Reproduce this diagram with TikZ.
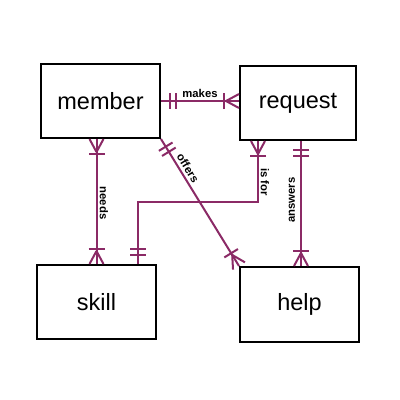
\documentclass[tikz,border=0pt]{standalone}
\usepackage{fontspec}
\setmainfont{Liberation Sans}
\usetikzlibrary{calc}
\definecolor{erpurple}{RGB}{139,42,102}
\tikzset{
  entity/.style={draw=black, line width=2pt, inner sep=0pt,
    font=\fontsize{23.5}{28}\selectfont},
  rel/.style={draw=erpurple, line width=2pt},
  rlabel/.style={font=\bfseries\fontsize{11.3}{13}\selectfont, inner sep=0pt, text=black},
}
\newcommand{\manyend}[2]{%
  \coordinate (tA) at ($(#1)!13pt!(#2)$);
  \coordinate (tB) at ($(#1)!15pt!(#2)$);
  \draw[rel] (tA) -- ($(#1)!7pt!90:(#2)$);
  \draw[rel] (tA) -- ($(#1)!7pt!-90:(#2)$);
  \draw[rel] ($(tB)!8pt!90:(#2)$) -- ($(tB)!8pt!-90:(#2)$);
}
\newcommand{\oneend}[2]{%
  \coordinate (tA) at ($(#1)!9pt!(#2)$);
  \coordinate (tB) at ($(#1)!15pt!(#2)$);
  \draw[rel] ($(tA)!8pt!90:(#2)$) -- ($(tA)!8pt!-90:(#2)$);
  \draw[rel] ($(tB)!8pt!90:(#2)$) -- ($(tB)!8pt!-90:(#2)$);
}
\begin{document}
\begin{tikzpicture}[x=1pt,y=-1pt]
\useasboundingbox[fill=white] (0,0) rectangle (400,400);

\node[entity, minimum width=119pt, minimum height=74pt] (member) at (100.5,101) {member};
\node[entity, minimum width=116pt, minimum height=74pt] (request) at (298,103) {request};
\node[entity, minimum width=119pt, minimum height=74pt] (skill) at (96.5,302) {skill};
\node[entity, minimum width=119pt, minimum height=75pt] (help) at (299.5,304.5) {help};

% makes
\coordinate (mk1) at (member.east);
\coordinate (mk2) at (member.east -| request.west);
\draw[rel] (mk1) -- (mk2);
\oneend{mk1}{mk2}
\manyend{mk2}{mk1}
\node[rlabel] (lmakes) at (200,93) {makes};

% needs
\coordinate (nd1) at (member.south -| skill.north);
\coordinate (nd2) at (skill.north);
\draw[rel] (nd1) -- (nd2);
\manyend{nd1}{nd2}
\manyend{nd2}{nd1}
\node[rlabel, rotate=-90] (lneeds) at (104,203) {needs};

% offers
\coordinate (of1) at (member.south east);
\coordinate (of2) at (help.north west);
\draw[rel] (of1) -- (of2);
\oneend{of1}{of2}
\manyend{of2}{of1}
\node[rlabel, rotate=-58] (loffers) at (188,168) {offers};

% is for
\coordinate (ifmid) at (0,202);
\coordinate (if1) at ($(request.south)+(-40,0)$);
\coordinate (if2) at ($(skill.north)+(41.5,0)$);
\coordinate (ifa) at (if1 |- ifmid);
\coordinate (ifb) at (if2 |- ifmid);
\draw[rel] (if1) -- (ifa) -- (ifb) -- (if2);
\manyend{if1}{ifa}
\oneend{if2}{ifb}
\node[rlabel, rotate=-90] (lisfor) at (265,182) {is for};

% answers
\coordinate (an1) at ($(request.south)+(3,0)$);
\coordinate (an2) at (an1 |- help.north);
\draw[rel] (an1) -- (an2);
\oneend{an1}{an2}
\manyend{an2}{an1}
\node[rlabel, rotate=90] (lanswers) at (292,200) {answers};
\end{tikzpicture}
\end{document}
